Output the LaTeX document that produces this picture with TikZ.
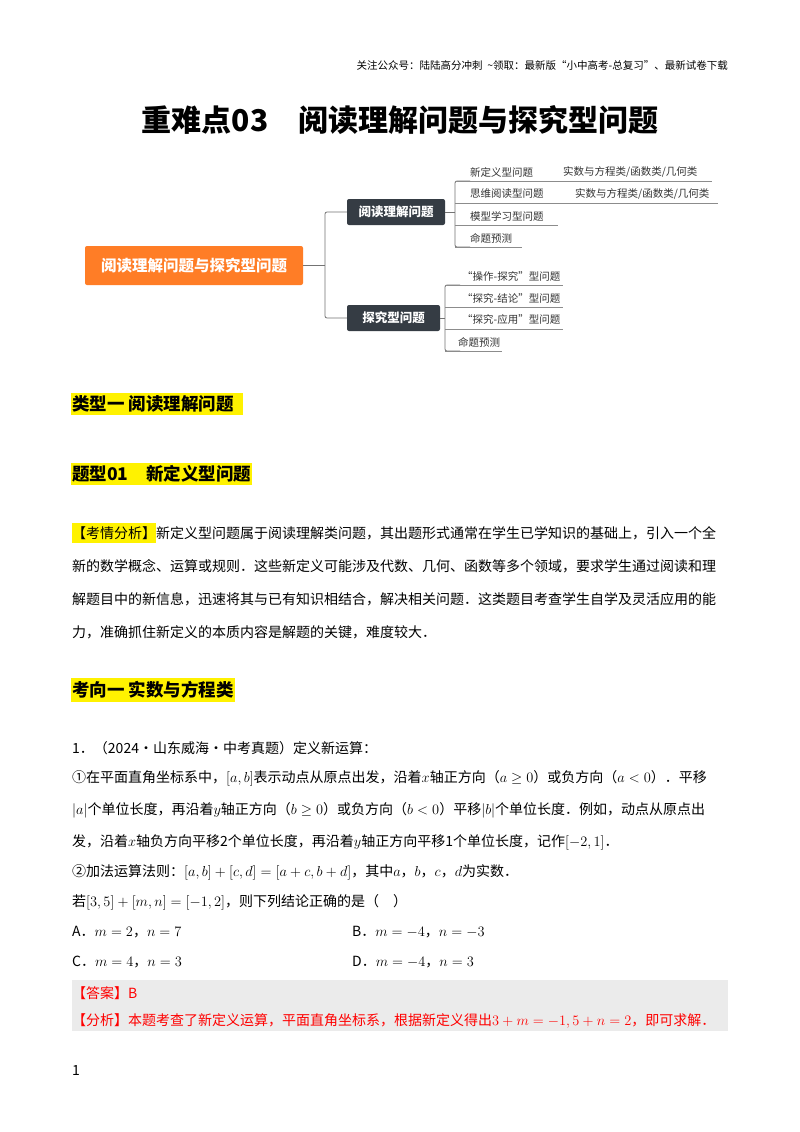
\documentclass[tikz,border=0pt]{standalone}
\usepackage{fontspec}
\setmainfont{Noto Sans CJK SC}
\definecolor{slate}{HTML}{353C44}
\begin{document}
\begin{tikzpicture}[x=1pt,y=-1pt,
  body/.style={anchor=west,inner sep=0pt,font=\fontsize{14}{14}\selectfont},
  mm/.style={anchor=west,inner sep=0pt,font=\fontsize{10.5}{10.5}\selectfont,text=black!80},
  ul/.style={draw=black!45,line width=0.6pt},
  br/.style={draw=black!55,line width=0.8pt,rounded corners=2pt},
  dark/.style={fill=slate,rounded corners=2pt,text=white,font=\fontsize{12.5}{12.5}\selectfont\bfseries,minimum height=26pt,inner xsep=5pt},
  hl/.style={anchor=west,inner xsep=1pt,inner ysep=3pt,fill=yellow,font=\fontsize{17.5}{17.5}\selectfont\bfseries}]
\useasboundingbox (0,0) rectangle (800,1132);
\fill[white] (0,0) rectangle (800,1132);
\node[anchor=east,inner sep=0pt,font=\fontsize{10.5}{10.5}\selectfont] (hdr) at (728,65) {关注公众号：陆陆高分冲刺\ \ \textasciitilde 领取：最新版“小中高考-总复习”、最新试卷下载};
\node[inner sep=0pt,font=\fontsize{30}{30}\selectfont\bfseries] (title) at (400,120) {重难点03\quad 阅读理解问题与探究型问题};
% mind map
\node[fill=orange!80!red!85,rounded corners=2pt,text=white,font=\fontsize{15.5}{15.5}\selectfont\bfseries,minimum width=218pt,minimum height=39pt] (root) at (194,265.5) {阅读理解问题与探究型问题};
\node[dark,minimum width=98pt] (r1) at (396,212) {阅读理解问题};
\node[dark,minimum width=93pt] (r2) at (393.5,318) {探究型问题};
\draw[br] (root.east) -- (325,265.5);
\draw[br] (r1.west) -- (325,212) -- (325,318) -- (r2.west);
% group 1
\draw[br] (r1.east) -- (455,212);
\draw[br] (470,181) -- (455,181) -- (455,247) -- (470,247);
\foreach \y/\t/\w [count=\i] in {172/新定义型问题/72,194/思维阅读型问题/89,216/模型学习型问题/88,238/命题预测/52}{
  \node[mm] (a\i) at (470,\y) {\t};
  \draw[ul] (455,\y+9) -- (470+\w,\y+9);
}
\node[mm] (a1b) at (563,172) {实数与方程类/函数类/几何类};
\draw[ul] (542,181) -- (712,181);
\node[mm] (a2b) at (575,194) {实数与方程类/函数类/几何类};
\draw[ul] (559,203) -- (718,203);
% group 2
\draw[br] (r2.east) -- (445,318);
\draw[br] (460,285) -- (445,285) -- (445,351) -- (460,351);
\foreach \y/\t/\w [count=\i] in {276/“操作-探究”型问题/118,298/“探究-结论”型问题/118,320/“探究-应用”型问题/118}{
  \node[mm] (b\i) at (462,\y) {\t};
  \draw[ul] (445,\y+9) -- (563,\y+9);
}
\node[mm] (b4) at (458,342) {命题预测};
\draw[ul] (445,351) -- (502,351);
% sections
\node[hl] (s1) at (71,404) {类型一\ 阅读理解问题\ \ \ };
\node[hl] (s2) at (71,474) {题型01\quad 新定义型问题};
\node[body] (p1) at (72,533) {\colorbox{yellow}{\hspace{-3pt}【考情分析】\hspace{-3pt}}新定义型问题属于阅读理解类问题，其出题形式通常在学生已学知识的基础上，引入一个全};
\node[body] (p2) at (72,566) {新的数学概念、运算或规则．这些新定义可能涉及代数、几何、函数等多个领域，要求学生通过阅读和理};
\node[body] (p3) at (72,599) {解题目中的新信息，迅速将其与已有知识相结合，解决相关问题．这类题目考查学生自学及灵活应用的能};
\node[body] (p4) at (72,632) {力，准确抓住新定义的本质内容是解题的关键，难度较大．};
\node[hl] (s3) at (71,690) {考向一\ 实数与方程类};
% problem
\node[body] (q0) at (72,748) {1．（2024·山东威海·中考真题）定义新运算：};
\node[body] (q1) at (72,778) {①在平面直角坐标系中，$[a,b]$表示动点从原点出发，沿着$x$轴正方向（$a\geq0$）或负方向（$a<0$）．平移};
\node[body] (q2) at (72,810) {$|a|$个单位长度，再沿着$y$轴正方向（$b\geq0$）或负方向（$b<0$）平移$|b|$个单位长度．例如，动点从原点出};
\node[body] (q3) at (72,842) {发，沿着$x$轴负方向平移2个单位长度，再沿着$y$轴正方向平移1个单位长度，记作$[-2,1]$．};
\node[body] (q4) at (72,872) {②加法运算法则：$[a,b]+[c,d]=[a+c,b+d]$，其中$a$，$b$，$c$，$d$为实数．};
\node[body] (q5) at (72,902) {若$[3,5]+[m,n]=[-1,2]$，则下列结论正确的是（\quad）};
\node[body] (oA) at (72,932) {A．$m=2$，$n=7$};
\node[body] (oB) at (352,932) {B．$m=-4$，$n=-3$};
\node[body] (oC) at (72,962) {C．$m=4$，$n=3$};
\node[body] (oD) at (352,962) {D．$m=-4$，$n=3$};
\fill[black!8] (72,980) rectangle (728,1031);
\node[body,text=red] (ans) at (72,993) {【答案】B};
\node[body,text=red] (ana) at (72,1021) {【分析】本题考查了新定义运算，平面直角坐标系，根据新定义得出$3+m=-1,5+n=2$，即可求解．};
\node[body] (pg) at (72,1070) {1};
\end{tikzpicture}
\end{document}
